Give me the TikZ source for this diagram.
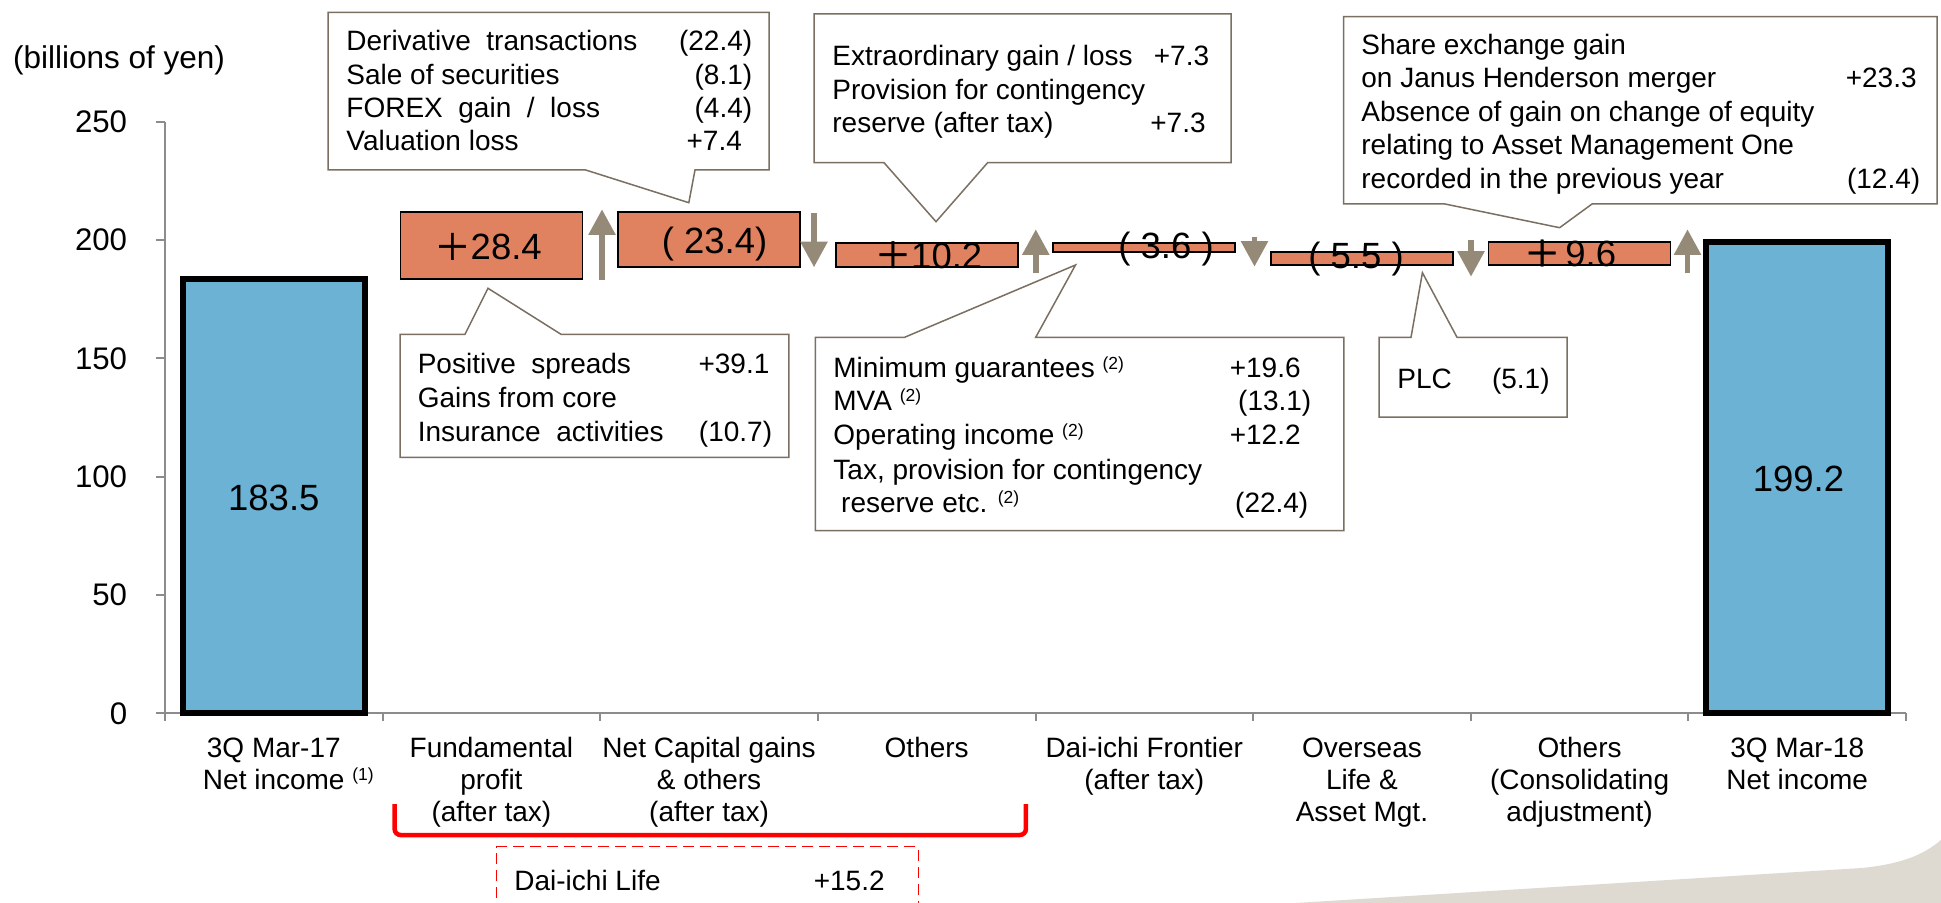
\documentclass[tikz,border=0pt]{standalone}
\usepackage{fontspec}
\setmainfont{Liberation Sans}
\newfontfamily\cjkfont{Noto Sans CJK JP}[FakeBold=1.2]
\usetikzlibrary{arrows.meta}
\definecolor{barorange}{HTML}{E0825F}
\definecolor{barblue}{HTML}{6CB2D5}
\definecolor{arrowgray}{HTML}{958A77}
\definecolor{callgray}{HTML}{7A6F61}
\definecolor{axisgray}{HTML}{8C8C8C}
\definecolor{bggray}{HTML}{DEDAD2}
\definecolor{brred}{HTML}{FF0000}
\newcommand{\fwplus}{{\cjkfont ＋}}
\newcommand{\supn}[1]{\raisebox{4.25pt}{\fontsize{8.75}{9}\selectfont(#1)}}
\begin{document}
\begin{tikzpicture}[x=0.5pt,y=-0.5pt,
  ctext/.style={font=\fontsize{14}{16}\selectfont, inner sep=0pt, anchor=base west},
  cval/.style={font=\fontsize{14}{16}\selectfont, inner sep=0pt, anchor=base east},
  cat/.style={font=\fontsize{14}{16}\selectfont, inner sep=0pt, anchor=base},
  ticklbl/.style={font=\fontsize{15.6}{18}\selectfont, inner sep=0pt, anchor=east},
  barval/.style={font=\fontsize{18.25}{20}\selectfont, inner sep=0pt, anchor=base},
  callout/.style={draw=callgray, line width=0.75pt, fill=white, line join=miter},
  obar/.style={fill=barorange, draw=black, line width=0.85pt},
  bbar/.style={fill=barblue, draw=black, line width=3pt},
  updown/.style={draw=arrowgray, line width=2.75pt, -{Triangle[width=13pt,length=12.8pt]}},
  axisline/.style={draw=axisgray, line width=1pt},
]
\useasboundingbox (0,0) rectangle (1941,903);
\clip (0,0) rectangle (1941,903);
\fill[white] (0,0) rectangle (1941,903);

% background decoration
\fill[bggray] (1296,903) -- (1862,868) .. controls (1900,864) and (1922,856) .. (1941,840) -- (1941,903) -- cycle;

% axes
\draw[axisline] (165,121.8) -- (165,713.3);
\draw[axisline] (156,713.3) -- (1906,713.3);
\foreach \v/\yy in {0/713.3,50/595.0,100/476.7,150/358.4,200/240.1,250/121.8}{
  \draw[axisline] (156,\yy) -- (165,\yy);
  \node[ticklbl] (tick\v) at (127.5,\yy) {\v};
}
\foreach \k in {0,...,8}{
  \draw[axisline] ({165+217.625*\k},713.3) -- ({165+217.625*\k},721);
}
\node[font=\fontsize{15.75}{18}\selectfont, inner sep=0pt, anchor=base west] (unit) at (12.8,68.5) {(billions of yen)};

% bars
\draw[bbar] (182.8,713.3) rectangle (364.8,279.1);
\draw[obar] (400.4,279.1) rectangle (582.4,211.95);
\draw[obar] (618.1,211.95) rectangle (800.1,267.3);
\draw[obar] (835.7,267.3) rectangle (1017.7,243.2);
\draw[obar] (1053.3,243.2) rectangle (1235.3,251.7);
\draw[obar] (1270.9,251.7) rectangle (1452.9,264.7);
\draw[obar] (1488.6,264.7) rectangle (1670.6,242.0);
\draw[bbar] (1706.2,713.3) rectangle (1888.2,242.0);

% up / down arrows
\coordinate (a1s) at (602,280);    \coordinate (a1e) at (602,209.3);
\coordinate (a2s) at (814,213.3);  \coordinate (a2e) at (814,267.3);
\coordinate (a3s) at (1035.8,273.3); \coordinate (a3e) at (1035.8,229.3);
\coordinate (a4s) at (1254.5,236.7); \coordinate (a4e) at (1254.5,266.7);
\coordinate (a5s) at (1471,240);   \coordinate (a5e) at (1471,276.7);
\coordinate (a6s) at (1687.5,273.3); \coordinate (a6e) at (1687.5,229.3);
\foreach \i in {1,...,6}{ \draw[updown] (a\i s) -- (a\i e); }

% bar values
\node[barval] (v1) at (273.8,510) {183.5};
\node[barval] (v2) at (488,260) {\fwplus28.4};
\node[barval] (v3) at (714.5,253.3) {( 23.4)};
\node[barval] (v4) at (928.5,268.3) {\fwplus10.2};
\node[barval] (v5) at (1166,258.3) {( 3.6 )};
\node[barval] (v6) at (1356,268.3) {( 5.5 )};
\node[barval] (v7) at (1570,266.7) {\fwplus\hspace{2.5pt}9.6};
\node[barval] (v8) at (1798.5,491.5) {199.2};

% callout 1
\draw[callout] (328,12.3) -- (769,12.3) -- (769,170) -- (695,170) -- (688.8,202.7) -- (585.7,170) -- (328,170) -- cycle;
\node[ctext] (k1a) at (346,51) {Derivative\ \ transactions};
\node[cval] (k1av) at (752.6,51) {(22.4)};
\node[ctext] (k1b) at (346,84.5) {Sale of securities};
\node[cval] (k1bv) at (752.6,84.5) {(8.1)};
\node[ctext] (k1c) at (346,118) {FOREX\ \ gain\ \ /\ \ loss};
\node[cval] (k1cv) at (752.6,118) {(4.4)};
\node[ctext] (k1d) at (346,151) {Valuation loss};
\node[cval] (k1dv) at (742.3,151) {+7.4};

% callout 2
\draw[callout] (814,14) -- (1231,14) -- (1231,162.7) -- (987.6,162.7) -- (936,221.7) -- (884,162.7) -- (814,162.7) -- cycle;
\node[ctext] (k2a) at (832,66) {Extraordinary gain / loss};
\node[cval] (k2av) at (1209.5,66) {+7.3};
\node[ctext] (k2b) at (832,99.5) {Provision for contingency};
\node[ctext] (k2c) at (832,133) {reserve (after tax)};
\node[cval] (k2cv) at (1206,133) {+7.3};

% callout 3
\draw[callout] (400,334.3) -- (465,334.3) -- (488,288.3) -- (561,334.3) -- (788.8,334.3) -- (788.8,457.3) -- (400,457.3) -- cycle;
\node[ctext] (k3a) at (417.4,373.5) {Positive\ \ spreads};
\node[cval] (k3av) at (769.8,373.5) {+39.1};
\node[ctext] (k3b) at (417.4,407) {Gains from core};
\node[ctext] (k3c) at (417.4,441) {Insurance\ \ activities};
\node[cval] (k3cv) at (772.5,441) {(10.7)};

% callout 4
\draw[callout] (1343.7,16.7) -- (1937,16.7) -- (1937,204) -- (1592,204) -- (1559.6,227.7) -- (1445,204) -- (1343.7,204) -- cycle;
\node[ctext] (k4a) at (1361,54.5) {Share exchange gain};
\node[ctext] (k4b) at (1361,88) {on Janus Henderson merger};
\node[cval] (k4bv) at (1917,88) {+23.3};
\node[ctext] (k4c) at (1361,121.5) {Absence of gain on change of equity};
\node[ctext] (k4d) at (1361,155) {relating to Asset Management One};
\node[ctext] (k4e) at (1361,188.5) {recorded in the previous year};
\node[cval] (k4ev) at (1920.6,188.5) {(12.4)};

% callout 5
\draw[callout] (815.3,337.3) -- (904.6,337.3) -- (1075.5,265) -- (1035.7,337.3) -- (1343.9,337.3) -- (1343.9,530.7) -- (815.3,530.7) -- cycle;
\node[ctext] (k5a) at (833,378) {Minimum guarantees \supn{2}};
\node[cval] (k5av) at (1301,378) {+19.6};
\node[ctext] (k5b) at (833,410.2) {MVA \supn{2}};
\node[cval] (k5bv) at (1311.7,410.2) {(13.1)};
\node[ctext] (k5c) at (833,444.5) {Operating income \supn{2}};
\node[cval] (k5cv) at (1301,444.5) {+12.2};
\node[ctext] (k5d) at (833,479.5) {Tax, provision for contingency};
\node[ctext] (k5e) at (840.8,512) {reserve etc. \supn{2}};
\node[cval] (k5ev) at (1308.7,512) {(22.4)};

% callout 6
\draw[callout] (1379,337.3) -- (1411,337.3) -- (1422.4,272.7) -- (1457,337.3) -- (1567,337.3) -- (1567,417) -- (1379,417) -- cycle;
\node[ctext] (k6a) at (1397,388) {PLC};
\node[cval] (k6av) at (1550,388) {(5.1)};

% category labels
\node[cat] (c1a) at (273.8,757) {3Q Mar-17};
\node[cat] (c1b) at (273.8,789) {Net income\rlap{\ \supn{1}}};
\node[cat] (c2a) at (491.4,757) {Fundamental};
\node[cat] (c2b) at (491.4,789) {profit};
\node[cat] (c2c) at (491.4,821) {(after tax)};
\node[cat] (c3a) at (709.1,757) {Net Capital gains};
\node[cat] (c3b) at (709.1,789) {\& others};
\node[cat] (c3c) at (709.1,821) {(after tax)};
\node[cat] (c4a) at (926.7,757) {Others};
\node[cat] (c5a) at (1144.3,757) {Dai-ichi Frontier};
\node[cat] (c5b) at (1144.3,789) {(after tax)};
\node[cat] (c6a) at (1361.9,757) {Overseas};
\node[cat] (c6b) at (1361.9,789) {Life \&};
\node[cat] (c6c) at (1361.9,821) {Asset Mgt.};
\node[cat] (c7a) at (1579.6,757) {Others};
\node[cat] (c7b) at (1579.6,789) {(Consolidating};
\node[cat] (c7c) at (1579.6,821) {adjustment)};
\node[cat] (c8a) at (1797.2,757) {3Q Mar-18};
\node[cat] (c8b) at (1797.2,789) {Net income};

% red bracket and dashed box
\draw[brred, line width=2.25pt, rounded corners=3pt] (394.6,804) -- (394.6,835) -- (1025.9,835) -- (1025.9,804);
\draw[brred, line width=0.75pt, dash pattern=on 5.5pt off 3pt] (496.4,915) -- (496.4,846.7) -- (918.3,846.7) -- (918.3,915);
\node[ctext] (dl) at (514,890) {Dai-ichi Life};
\node[cval] (dlv) at (885,890) {+15.2};
\end{tikzpicture}
\end{document}
